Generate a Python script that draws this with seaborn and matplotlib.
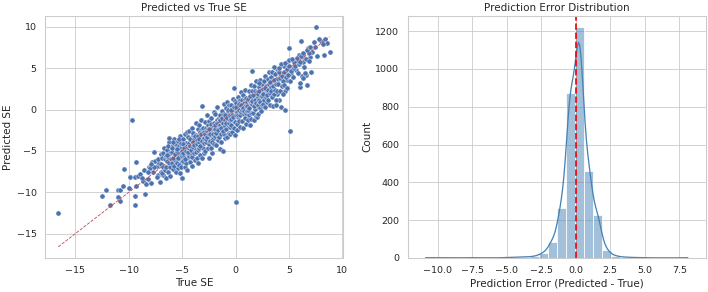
import numpy as np
import pandas as pd
import matplotlib
matplotlib.use("Agg")
import matplotlib.pyplot as plt
import seaborn as sns

sns.set_theme(style="whitegrid")

# ===== Scatter data: true vs predicted SE =====
true_se = [
    # tails and outliers
    -16.6, -12.5, -12.1, -11.8, -11.0, -10.8, -11.0, -10.8, -10.4, -10.5,
    -10.0, -9.9, -9.7, -9.4, -9.4, -9.35, -9.3, -9.4, -9.1, -8.9,
    -8.5, -8.6, -8.7, -8.4, -8.2, -8.1, -7.9, -7.6, -7.7, -7.4,
    -7.1, -7.8, -7.3, -7.5, -8.0, -7.2, 0.0, 5.1, 4.3, 4.6,
    7.5, 8.8, 5.0, 6.1, 6.7, 6.0, 6.0, 6.6, 7.1, 7.0,
    7.6, 8.3, 8.0, 8.4, 7.8, 7.3, 6.8, 7.2, 8.6, 6.4,
    6.3, 5.8, 5.5, 5.3, 5.7, 6.2, 5.9, 6.9, 7.4, 8.2,
    4.9, 4.7, 4.5, 4.8, 5.2, 4.4, 4.6, 4.1, 3.9, 1.5,
    -7.0, -6.9, -7.3, -7.6, -8.2, -8.8, -7.4, -6.8, -7.9, -7.0,
    # main band
    -6.95, -6.9, -6.85, -6.8, -6.75, -6.7, -6.65, -6.6, -6.55, -6.5,
    -6.48, -6.45, -6.4, -6.35, -6.3, -6.25, -6.2, -6.15, -6.1, -6.05, -6.2, -6.4, -6.1, -6.3,
    -5.98, -5.92, -5.88, -5.82, -5.78, -5.72, -5.68, -5.62, -5.58, -5.52, -5.95, -5.85, -5.75, -5.65, -5.55, -5.9,
    -5.48, -5.44, -5.4, -5.36, -5.32, -5.28, -5.24, -5.2, -5.16, -5.12, -5.08, -5.05, -5.02, -5.45, -5.35, -5.25, -5.15, -5.05, -5.3, -5.1,
    -4.98, -4.94, -4.9, -4.86, -4.82, -4.78, -4.74, -4.7, -4.66, -4.62, -4.58, -4.54, -4.5, -4.96, -4.88, -4.8, -4.72, -4.64, -4.56, -4.52,
    -4.48, -4.44, -4.4, -4.36, -4.32, -4.28, -4.24, -4.2, -4.16, -4.12, -4.08, -4.04, -4.0, -4.46, -4.38, -4.3, -4.22, -4.14, -4.06, -4.02,
    -3.98, -3.94, -3.9, -3.86, -3.82, -3.78, -3.74, -3.7, -3.66, -3.62, -3.58, -3.54, -3.5, -3.96, -3.88, -3.8, -3.72, -3.64, -3.56, -3.52,
    -3.48, -3.44, -3.4, -3.36, -3.32, -3.28, -3.24, -3.2, -3.16, -3.12, -3.1, -3.06, -3.02, -3.46, -3.38, -3.3, -3.22, -3.14, -3.06, -3.0,
    -2.98, -2.94, -2.9, -2.86, -2.82, -2.78, -2.74, -2.7, -2.66, -2.62, -2.58, -2.54, -2.5, -2.96, -2.88, -2.8, -2.72, -2.64, -2.56, -2.52,
    -2.48, -2.44, -2.4, -2.36, -2.32, -2.28, -2.24, -2.2, -2.16, -2.12, -2.08, -2.04, -2.0, -2.46, -2.38, -2.3, -2.22, -2.14, -2.06, -2.02,
    -1.98, -1.94, -1.9, -1.86, -1.82, -1.78, -1.74, -1.7, -1.66, -1.62, -1.58, -1.54, -1.5, -1.96, -1.88, -1.8, -1.72, -1.64, -1.56, -1.52,
    -1.48, -1.44, -1.4, -1.36, -1.32, -1.28, -1.24, -1.2, -1.16, -1.12, -1.08, -1.04, -1.0, -1.46, -1.38, -1.3, -1.22, -1.14, -1.06, -1.02,
    -0.98, -0.94, -0.9, -0.86, -0.82, -0.78, -0.74, -0.7, -0.66, -0.62, -0.58, -0.54, -0.5, -0.96, -0.88, -0.8, -0.72, -0.64, -0.56, -0.52,
    -0.48, -0.44, -0.4, -0.36, -0.32, -0.28, -0.24, -0.2, -0.16, -0.12, -0.08, -0.1, -0.04, 0.0, -0.46, -0.38, -0.3, -0.22, -0.14, -0.06,
    0.02, 0.06, 0.1, 0.14, 0.18, 0.22, 0.26, 0.3, 0.34, 0.38, 0.42, 0.46, 0.5, 0.04, 0.12, 0.2, 0.28, 0.36, 0.44, 0.48,
    0.52, 0.56, 0.6, 0.64, 0.68, 0.72, 0.76, 0.8, 0.84, 0.88, 0.92, 0.96, 1.0, 0.54, 0.62, 0.7, 0.78, 0.86, 0.94, 0.98,
    1.02, 1.06, 1.1, 1.14, 1.18, 1.22, 1.26, 1.3, 1.34, 1.38, 1.42, 1.46, 1.5, 1.04, 1.12, 1.2, 1.28, 1.36, 1.44, 1.48,
    1.52, 1.56, 1.6, 1.64, 1.68, 1.72, 1.76, 1.8, 1.84, 1.88, 1.92, 1.96, 2.0, 1.54, 1.62, 1.7, 1.78, 1.86, 1.94, 1.98,
    2.02, 2.06, 2.1, 2.14, 2.18, 2.22, 2.26, 2.3, 2.34, 2.38, 2.42, 2.46, 2.5, 2.08, 2.16, 2.24, 2.32, 2.4, 2.48, 2.2,
    2.52, 2.56, 2.6, 2.64, 2.68, 2.72, 2.76, 2.8, 2.84, 2.88, 2.92, 2.96, 3.0, 2.58, 2.74, 2.9,
    3.04, 3.08, 3.12, 3.18, 3.22, 3.28, 3.32, 3.38, 3.42, 3.48, 3.1, 3.25, 3.35, 3.45,
    3.52, 3.56, 3.62, 3.66, 3.72, 3.76, 3.82, 3.86, 3.92, 3.96, 3.6, 3.8,
    4.02, 4.08, 4.14, 4.2, 4.26, 4.32, 4.38, 4.44, 4.48, 4.1,
    4.52, 4.58, 4.66, 4.72, 4.8, 4.86, 4.94, 4.98,
    5.05, 5.12, 5.2, 5.3, 5.38, 5.46, 5.6, 5.72, 5.82, 5.95,
    6.05, 6.15, 6.3, 6.45, 6.55, 6.7, 6.85, 6.95, 6.5, 6.35,
]
pred_se = [
    # tails and outliers
    -12.5, -10.5, -9.7, -11.5, -9.7, -9.7, -10.6, -11.1, -7.2, -9.2,
    -9.5, -8.1, -1.3, -10.4, -11.5, -9.2, -6.3, -8.2, -8.0, -7.8,
    -10.2, -7.3, -8.6, -9.0, -8.4, -6.9, -8.9, -5.1, -7.6, -6.8,
    -8.7, -6.3, -7.9, -6.2, -7.1, -6.4, -11.2, -2.6, 0.3, 0.0,
    10.0, 7.0, 7.4, 8.3, 3.0, 2.7, 3.2, 4.2, 4.6, 6.4,
    6.5, 6.6, 8.3, 8.5, 8.5, 8.2, 7.5, 7.0, 8.0, 6.2,
    5.7, 6.0, 5.8, 5.1, 4.8, 4.1, 6.6, 6.8, 7.6, 7.9,
    5.9, 4.4, 5.3, 3.6, 4.4, 3.0, 2.2, 1.1, 1.9, 4.7,
    -7.6, -5.6, -6.0, -7.0, -7.6, -8.3, -8.1, -7.9, -6.6, -5.4,
    # main band
    -6.6, -5.9, -7.7, -5.2, -6.9, -4.7, -7.3, -6.0, -8.3, -5.6,
    -7.0, -6.2, -4.9, -7.6, -5.7, -3.9, -6.5, -5.2, -8.0, -6.0, -3.4, -5.5, -6.9, -4.4,
    -5.1, -6.5, -4.3, -7.2, -5.7, -3.6, -6.1, -4.8, -7.6, -5.3, -4.7, -5.9, -6.8, -5.4, -4.2, -3.9,
    -6.4, -5.0, -3.8, -7.1, -5.6, -4.4, -6.0, -3.2, -7.7, -5.3, -4.6, -8.3, -6.3, -4.8, -5.9, -6.7, -4.1, -5.6, -3.6, -6.9,
    -5.0, -3.5, -6.2, -4.4, -5.6, -7.0, -3.0, -4.9, -6.5, -4.0, -5.3, -2.7, -5.9, -4.2, -5.3, -4.7, -6.0, -5.0, -4.4, -7.3,
    -4.6, -3.3, -5.6, -2.6, -4.1, -6.3, -5.0, -3.7, -5.4, -2.2, -4.4, -6.8, -3.9, -5.1, -4.6, -3.5, -4.4, -4.9, -5.7, -3.1,
    -4.5, -2.8, -5.3, -3.6, -6.1, -4.0, -1.6, -4.8, -3.1, -5.8, -3.8, -2.3, -4.4, -3.9, -4.3, -3.2, -5.1, -4.2, -4.9, -6.4,
    -3.2, -1.9, -4.6, -2.7, -5.5, -3.6, -1.3, -4.1, -2.4, -5.9, 0.4, -3.4, -4.6, -3.9, -3.5, -4.4, -2.9, -3.8, -2.2, -5.2,
    -2.7, -4.0, -1.5, -3.3, -5.0, -2.2, -3.9, -0.6, -3.0, -4.6, -1.9, -3.5, -5.8, -3.4, -2.9, -3.6, -2.6, -3.3, -2.4, -4.2,
    -2.9, -1.4, -3.8, -2.2, -4.7, -1.0, -3.2, -2.6, -5.3, -1.7, -3.6, -0.3, -2.4, -2.4, -3.0, -1.8, -3.9, -2.9, -2.0, -4.2,
    -1.6, -3.2, -0.5, -2.5, -4.3, -1.2, -3.0, 0.3, -2.1, -3.7, -1.0, -2.8, -4.8, -2.3, -1.9, -2.8, -1.6, -2.5, -1.5, -3.3,
    -1.9, -0.6, -3.0, -1.4, -3.9, -0.2, -2.4, -5.0, -1.8, 0.7, -2.9, -1.1, -3.4, -1.3, -2.2, -1.0, -1.6, -2.6, -0.5, -2.0,
    -1.3, 0.2, -2.4, -0.8, -3.3, 0.9, -1.9, -0.3, -2.8, -1.1, 0.5, -2.1, -0.6, -0.6, -1.6, -1.0, -0.1, -1.6, -1.3, -3.0,
    -0.8, 0.6, -1.9, -0.3, -2.7, 1.3, -1.2, 0.1, -2.2, -0.6, 1.0, 2.6, -1.5, -0.1, -0.1, -1.1, -0.6, -0.9, 0.3, -3.1,
    -0.6, 0.8, -1.7, 0.2, -2.5, 1.5, -0.9, 0.5, -1.4, -0.2, 1.2, -2.1, 0.1, 0.3, -0.3, -0.6, 0.0, 0.7, -0.7, 2.1,
    -0.3, 1.1, -1.4, 0.4, -2.2, 1.8, -0.5, 0.8, -1.0, 0.1, 2.4, -1.8, 0.5, 0.5, -0.1, 0.2, -0.2, 1.3, 0.6, -0.4,
    1.4, -0.2, 0.9, -1.3, 0.4, 2.3, -0.6, 1.1, -1.9, 0.6, 3.0, -0.4, 1.5, 0.4, 0.0, 1.3, 0.2, 1.7, 0.9, -1.1,
    0.7, 2.2, -0.4, 1.3, -1.2, 0.9, 2.8, 0.1, 1.6, -0.8, 1.1, 3.4, 0.4, 1.0, 1.8, 0.4, 1.2, 2.2, 0.8, -0.9,
    2.1, 0.6, 1.5, -0.5, 2.7, 1.0, 3.6, 0.2, 1.8, -0.2, 2.4, 1.2, 3.1, 1.9, 1.2, 2.3, 0.9, 1.6, 0.5, 3.2,
    1.6, 0.7, 2.5, 1.2, 3.4, 0.3, 2.0, 4.1, 1.5, 2.8, 0.9, 2.2, 3.7, 1.9, 2.6, 1.8,
    2.4, 1.2, 3.1, 0.6, 2.0, 4.0, 2.7, 1.5, 3.5, 0.4, 4.5, 3.3, 2.2, 4.6,
    2.9, 1.9, 3.6, 2.4, 4.3, 1.2, 3.1, 4.9, 2.3, 3.7, 5.1, 0.6,
    3.1, 4.5, 2.2, 3.8, 5.5, 2.8, 4.1, 1.9, 3.4, 5.0,
    4.6, 3.0, 5.6, 3.9, 4.9, 2.6, 4.2, 6.0,
    5.3, 3.4, 4.7, 6.1, 4.0, 5.0, 5.3, 6.3, 4.4, 5.5,
    5.8, 6.5, 6.9, 5.2, 6.1, 7.2, 5.9, 7.6, 4.4, 3.8,
]

# ===== Error histogram: counts per bin (30 bins) =====
err_min, err_max = -11.2, 8.45
err_counts = [1, 0, 0, 0, 0, 1, 0, 0, 0, 2,
              3, 4, 8, 25, 85, 262, 875, 1220, 462, 226,
              40, 10, 4, 2, 1, 0, 0, 0, 0, 1]

true_se = np.array(true_se)
pred_se = np.array(pred_se)

n_bins = len(err_counts)
edges = np.linspace(err_min, err_max, n_bins + 1)
errors = pd.DataFrame({'error': (edges[:-1] + edges[1:]) / 2,
                       'count': err_counts})

# ===== Plot =====
fig, (ax1, ax2) = plt.subplots(1, 2, figsize=(708 / 62, 292 / 62))

sns.scatterplot(x=true_se, y=pred_se, ax=ax1)
lo, hi = true_se.min(), true_se.max()
ax1.plot([lo, hi], [lo, hi], 'r--', lw=1)
ax1.set_title('Predicted vs True SE')
ax1.set_xlabel('True SE')
ax1.set_ylabel('Predicted SE')

sns.histplot(data=errors, x='error', weights='count', bins=n_bins,
             binrange=(err_min, err_max), kde=True, color='steelblue',
             alpha=0.5, kde_kws={'bw_adjust': 0.4}, ax=ax2)
ax2.axvline(0, color='red', linestyle='--', lw=2)
ax2.set_title('Prediction Error Distribution')
ax2.set_xlabel('Prediction Error (Predicted - True)')
ax2.set_ylabel('Count')

plt.tight_layout(pad=0.2, w_pad=1.2)
plt.savefig('out.png', dpi=62)
